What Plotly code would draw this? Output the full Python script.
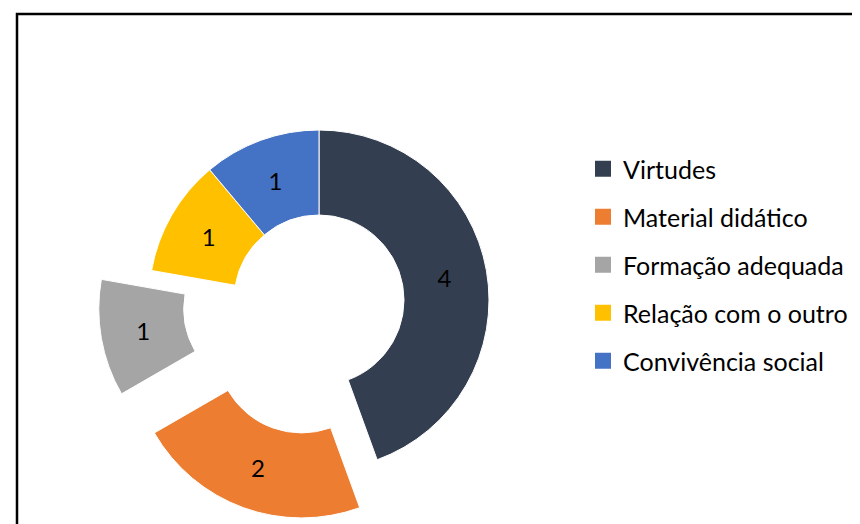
import plotly.graph_objects as go

categories = ["Virtudes", "Material didático", "Formação adequada", "Relação com o outro", "Convivência social"]
values = [4, 2, 1, 1, 1]
pulls = [0, 0.3, 0.3, 0, 0]
colors = ["#333F50", "#ED7D31", "#A5A5A5", "#FFC000", "#4472C4"]

W, H = 860, 524
FONT = "Lato"

fig = go.Figure()
fig.add_trace(go.Pie(
    labels=categories,
    values=values,
    pull=pulls,
    hole=0.5,
    sort=False,
    direction="clockwise",
    rotation=0,
    marker=dict(colors=colors, line=dict(color="white", width=1)),
    textinfo="value",
    textposition="inside",
    insidetextorientation="horizontal",
    insidetextfont=dict(family=FONT, size=24, color="black"),
    showlegend=False,
    domain=dict(x=[90 / W, 532 / W], y=[1 - 513 / H, 1 - 71 / H]),
))

# legend entries (one per category)
for name, col in zip(categories, colors):
    fig.add_trace(go.Scatter(
        x=[None], y=[None], mode="markers", name=name, legendgroup=name,
        marker=dict(symbol="square", size=16, color=col),
        showlegend=True, hoverinfo="skip",
    ))

fig.update_layout(
    width=W, height=H,
    margin=dict(l=0, r=0, t=0, b=0),
    paper_bgcolor="white",
    plot_bgcolor="white",
    xaxis=dict(visible=False),
    yaxis=dict(visible=False),
    legend=dict(
        x=575 / W, xanchor="left",
        y=1 - 257 / H, yanchor="middle",
        font=dict(family=FONT, size=25, color="black"),
        tracegroupgap=12.5,
        itemwidth=30,
        bgcolor="rgba(0,0,0,0)",
    ),
    shapes=[dict(
        type="rect", xref="paper", yref="paper",
        x0=9 / W, x1=1.05, y0=-0.05, y1=1 - 6 / H,
        line=dict(color="black", width=2.5), fillcolor="rgba(0,0,0,0)",
        layer="above",
    )],
)

fig.write_html("out.html")
